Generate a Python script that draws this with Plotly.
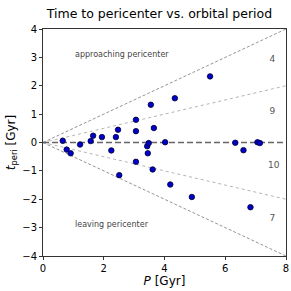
import plotly.graph_objects as go

# Data
period = [0.65, 0.78, 0.91, 1.22, 1.57, 1.65, 1.94, 2.25, 2.40, 2.47,
          2.51, 3.06, 3.06, 3.06, 3.43, 3.45, 3.48, 3.55, 3.61, 3.65,
          4.02, 4.19, 4.34, 4.90, 5.50, 6.33, 6.60, 6.83, 7.06, 7.14]
t_peri = [0.06, -0.25, -0.38, -0.07, 0.05, 0.24, 0.19, -0.28, 0.19, 0.45,
          -1.15, 0.80, 0.40, -0.68, -0.13, -0.38, -0.02, 1.33, -0.95, 0.51,
          0.01, -1.48, 1.56, -1.92, 2.33, -0.01, -0.27, -2.28, 0.01, -0.02]

boundary_P = [0, 8]
half_line = [0, 4]      # t = P/2
quarter_line = [0, 2]   # t = P/4

region_counts = ["4", "9", "10", "7"]
region_t = [2.93, 1.07, -0.83, -2.70]
region_P = [7.55, 7.55, 7.6, 7.55]

fig = go.Figure()

for s in (1, -1):
    fig.add_trace(go.Scatter(x=boundary_P, y=[s * v for v in half_line], mode="lines",
                             line=dict(color="#888888", width=0.9, dash="3px,2px"),
                             showlegend=False, hoverinfo="skip"))
for s in (1, -1):
    fig.add_trace(go.Scatter(x=boundary_P, y=[s * v for v in quarter_line], mode="lines",
                             line=dict(color="#aaaaaa", width=0.9, dash="dot"),
                             showlegend=False, hoverinfo="skip"))
fig.add_trace(go.Scatter(x=boundary_P, y=[0, 0], mode="lines",
                         line=dict(color="#666666", width=1.5, dash="6px,3px"),
                         showlegend=False, hoverinfo="skip"))

fig.add_trace(go.Scatter(x=period, y=t_peri, mode="markers",
                         marker=dict(size=5.5, color="#0000c8",
                                     line=dict(color="#000033", width=0.8)),
                         showlegend=False))

fig.add_trace(go.Scatter(x=region_P, y=region_t, mode="text", text=region_counts,
                         textfont=dict(size=9, color="#555555", family="DejaVu Sans"),
                         showlegend=False, hoverinfo="skip"))

fig.add_annotation(x=1.0, y=3.1, text="approaching pericenter", showarrow=False,
                   xanchor="left", yanchor="middle",
                   font=dict(size=8, color="#444444", family="DejaVu Sans"))
fig.add_annotation(x=1.0, y=-2.9, text="leaving pericenter", showarrow=False,
                   xanchor="left", yanchor="middle",
                   font=dict(size=8, color="#444444", family="DejaVu Sans"))

axis_common = dict(showgrid=False, zeroline=False, showline=True, linecolor="#333333",
                   linewidth=1, mirror=True, ticks="outside", ticklen=3,
                   tickcolor="#333333", tickfont=dict(size=10, color="#000000"),
                   automargin=False)

fig.update_xaxes(range=[0, 8], tickvals=[0, 2, 4, 6, 8],
                 title=dict(text="<i>P</i> [Gyr]", font=dict(size=12), standoff=2),
                 **axis_common)
fig.update_yaxes(range=[-4, 4], tickvals=[-4, -3, -2, -1, 0, 1, 2, 3, 4],
                 ticktext=["\u22124", "\u22123", "\u22122", "\u22121", "0", "1", "2", "3", "4"],
                 title=dict(text="<i>t</i><sub>peri</sub> [Gyr]", font=dict(size=12), standoff=4),
                 **axis_common)

fig.update_layout(
    width=291, height=291,
    margin=dict(l=43, r=5, t=29, b=35),
    paper_bgcolor="white", plot_bgcolor="white",
    font=dict(family="DejaVu Sans", color="#000000"),
    title=dict(text="Time to pericenter vs. orbital period", x=0.548, xanchor="center",
               y=0.952, yanchor="middle", font=dict(size=12.5)),
)

fig.write_html("out.html", config={"displayModeBar": False},
               post_script="document.body.style.margin='0';")
